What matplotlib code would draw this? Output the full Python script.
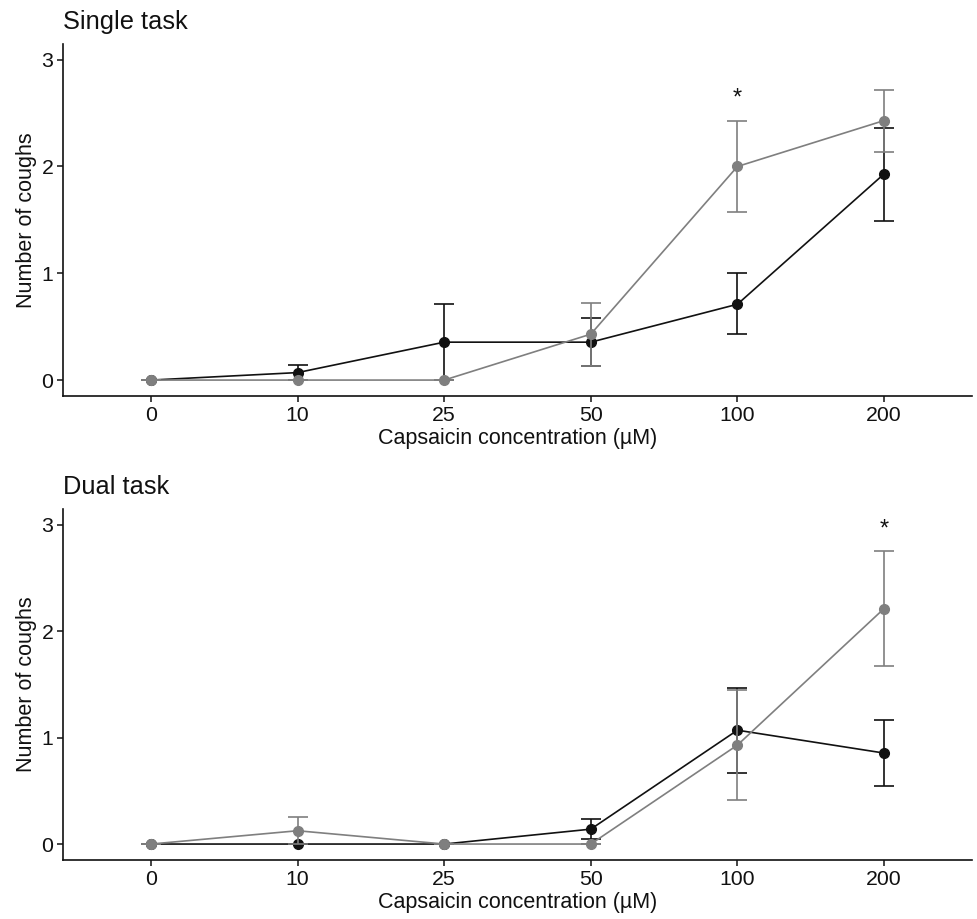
import matplotlib
matplotlib.use("Agg")
import matplotlib.pyplot as plt

plt.rcParams['font.family'] = ['Liberation Sans', 'DejaVu Sans']

concentrations = ['0', '10', '25', '50', '100', '200']

# Single task
single_black = [0.0, 0.07, 0.355, 0.355, 0.71, 1.93]
single_black_lo = [0.0, 0.0, 0.0, 0.13, 0.43, 1.49]
single_black_hi = [0.0, 0.14, 0.71, 0.58, 1.0, 2.36]
single_grey = [0.0, 0.0, 0.0, 0.43, 2.0, 2.43]
single_grey_lo = [0.0, 0.0, 0.0, 0.13, 1.57, 2.135]
single_grey_hi = [0.0, 0.0, 0.0, 0.72, 2.43, 2.72]

# Dual task
dual_black = [0.0, 0.0, 0.0, 0.14, 1.07, 0.855]
dual_black_lo = [0.0, 0.0, 0.0, 0.047, 0.67, 0.543]
dual_black_hi = [0.0, 0.0, 0.0, 0.237, 1.466, 1.167]
dual_grey = [0.0, 0.125, 0.0, 0.0, 0.93, 2.213]
dual_grey_lo = [0.0, 0.0, 0.0, 0.0, 0.418, 1.676]
dual_grey_hi = [0.0, 0.25, 0.0, 0.0, 1.445, 2.75]

stars = {'Single task': ('100', 2.64), 'Dual task': ('200', 2.96)}

BLACK = '#111111'
GREY = '#7f7f7f'

fig = plt.figure(figsize=(9.78, 9.19), dpi=100)
ax1 = fig.add_axes([63/978, 0.569, (972-63)/978, 0.952-0.569])
ax2 = fig.add_axes([63/978, 0.0642, (972-63)/978, 0.4458-0.0642])

panels = [
    (ax1, 'Single task', single_black, single_black_lo, single_black_hi,
     single_grey, single_grey_lo, single_grey_hi),
    (ax2, 'Dual task', dual_black, dual_black_lo, dual_black_hi,
     dual_grey, dual_grey_lo, dual_grey_hi),
]

for ax, title, bm, bl, bh, gm, gl, gh in panels:
    for m, lo, hi, col, z in [(bm, bl, bh, BLACK, 3), (gm, gl, gh, GREY, 4)]:
        yerr = [[mi - l for mi, l in zip(m, lo)], [h - mi for mi, h in zip(m, hi)]]
        ax.errorbar(concentrations, m, yerr=yerr, color=col, lw=1.2,
                    marker='o', ms=7, capsize=7.5, capthick=1.2, elinewidth=1.2,
                    zorder=z)
    sx, sy = stars[title]
    ax.text(sx, sy, '*', ha='center', va='center', fontsize=17, color=BLACK)
    ax.set_xlim(-0.6, 5.6)
    ax.set_ylim(-0.15, 3.146)
    ax.set_yticks([0, 1, 2, 3])
    for s in ['top', 'right']:
        ax.spines[s].set_visible(False)
    for s in ['left', 'bottom']:
        ax.spines[s].set_linewidth(1.2)
        ax.spines[s].set_color(BLACK)
    ax.tick_params(axis='both', labelsize=15.3, length=4, width=1.1,
                   color=BLACK, labelcolor=BLACK, pad=3)
    ax.set_xlabel('Capsaicin concentration (µM)', fontsize=15.5, color=BLACK, labelpad=2)
    ax.set_ylabel('Number of coughs', fontsize=15.5, color=BLACK, labelpad=3)
    ax.set_title(title, loc='left', fontsize=18.3, color=BLACK, pad=11)

fig.savefig('out.png', dpi=100)
